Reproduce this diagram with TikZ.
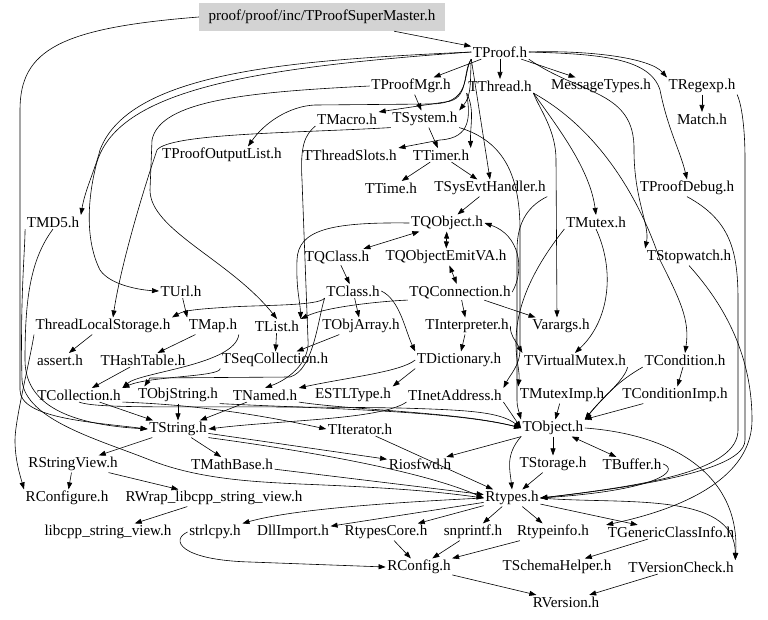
\documentclass[tikz,border=0pt]{standalone}
\usepackage{fontspec}
\setmainfont{Liberation Serif}
\usetikzlibrary{arrows.meta}
\begin{document}
\begin{tikzpicture}[x=1pt,y=-1pt,
  n/.style={inner sep=1.5pt, font=\fontsize{15.1}{17}\selectfont},
  e/.style={line width=0.6pt, -{Triangle[length=7pt,width=5pt]}},
  eb/.style={line width=0.6pt, {Triangle[length=7pt,width=5pt]}-{Triangle[length=7pt,width=5pt]}}]
\useasboundingbox (0,0) rectangle (768,619);
% nodes
\node[n, fill={rgb,255:red,211;green,211;blue,211}, minimum width=246pt, minimum height=28pt] (super) at (322,17) {proof/proof/inc/TProofSuperMaster.h};
\node[n] (TProof) at (500,52) {TProof.h};
\node[n] (TProofMgr) at (411,86) {TProofMgr.h};
\node[n] (TThread) at (500,86) {TThread.h};
\node[n] (MessageTypes) at (601,86) {MessageTypes.h};
\node[n] (TRegexp) at (702,86) {TRegexp.h};
\node[n] (Match) at (702,119) {Match.h};
\node[n] (TMacro) at (347,119) {TMacro.h};
\node[n] (TSystem) at (425,119) {TSystem.h};
\node[n] (TProofOutputList) at (222,155) {TProofOutputList.h};
\node[n] (TThreadSlots) at (350,155) {TThreadSlots.h};
\node[n] (TTimer) at (441,155) {TTimer.h};
\node[n] (TTime) at (391,188) {TTime.h};
\node[n] (TSysEvtHandler) at (490,188) {TSysEvtHandler.h};
\node[n] (TProofDebug) at (687,188) {TProofDebug.h};
\node[n] (TMD5) at (53,222) {TMD5.h};
\node[n] (TQObject) at (447,223) {TQObject.h};
\node[n] (TMutex) at (596,222) {TMutex.h};
\node[n] (TQClass) at (337,257) {TQClass.h};
\node[n] (TQObjectEmitVA) at (446,257) {TQObjectEmitVA.h};
\node[n] (TStopwatch) at (689,257) {TStopwatch.h};
\node[n] (TUrl) at (181,291) {TUrl.h};
\node[n] (TClass) at (353,291) {TClass.h};
\node[n] (TQConnection) at (460,292) {TQConnection.h};
\node[n] (ThreadLocalStorage) at (103,326) {ThreadLocalStorage.h};
\node[n] (TMap) at (213,326) {TMap.h};
\node[n] (TList) at (277,326) {TList.h};
\node[n] (TObjArray) at (361,326) {TObjArray.h};
\node[n] (TInterpreter) at (467,326) {TInterpreter.h};
\node[n] (Varargs) at (561,326) {Varargs.h};
\node[n] (assert) at (60,360) {assert.h};
\node[n] (THashTable) at (143,360) {THashTable.h};
\node[n] (TSeqCollection) at (275,360) {TSeqCollection.h};
\node[n] (TDictionary) at (459,360) {TDictionary.h};
\node[n] (TVirtualMutex) at (575,360) {TVirtualMutex.h};
\node[n] (TCondition) at (685,360) {TCondition.h};
\node[n] (TCollection) at (79,395) {TCollection.h};
\node[n] (TObjString) at (178,395) {TObjString.h};
\node[n] (TNamed) at (265,395) {TNamed.h};
\node[n] (ESTLType) at (353,395) {ESTLType.h};
\node[n] (TInetAddress) at (455,395) {TInetAddress.h};
\node[n] (TMutexImp) at (562,395) {TMutexImp.h};
\node[n] (TConditionImp) at (675,395) {TConditionImp.h};
\node[n] (TString) at (178,429) {TString.h};
\node[n] (TIterator) at (360,429) {TIterator.h};
\node[n] (TObject) at (553,428) {TObject.h};
\node[n] (RStringView) at (73,464) {RStringView.h};
\node[n] (TMathBase) at (232,464) {TMathBase.h};
\node[n] (Riosfwd) at (420,464) {Riosfwd.h};
\node[n] (TStorage) at (553,464) {TStorage.h};
\node[n] (TBuffer) at (632,464) {TBuffer.h};
\node[n] (RConfigure) at (67,498) {RConfigure.h};
\node[n] (RWrap) at (214,498) {RWrap\_libcpp\_string\_view.h};
\node[n] (Rtypes) at (512,498) {Rtypes.h};
\node[n] (libcpp) at (108,532) {libcpp\_string\_view.h};
\node[n] (strlcpy) at (215,532) {strlcpy.h};
\node[n] (DllImport) at (293,532) {DllImport.h};
\node[n] (RtypesCore) at (386,532) {RtypesCore.h};
\node[n] (snprintf) at (473,532) {snprintf.h};
\node[n] (Rtypeinfo) at (553,532) {Rtypeinfo.h};
\node[n] (TGenericClassInfo) at (671,532) {TGenericClassInfo.h};
\node[n] (RConfig) at (419,567) {RConfig.h};
\node[n] (TSchemaHelper) at (557,567) {TSchemaHelper.h};
\node[n] (TVersionCheck) at (681,567) {TVersionCheck.h};
\node[n] (RVersion) at (566,602) {RVersion.h};
% edges: top
\draw[e] (super) -- (TProof);
\draw[e] (super.west) .. controls (60,28) and (20,50) .. (20,110) -- (20,390) .. controls (20,418) and (90,422) .. (TString.west);
\draw[e] (TProof) -- (TProofMgr);
\draw[e] (TProof) -- (TThread);
\draw[e] (TProof) -- (MessageTypes);
\draw[e] (TProof.east) .. controls (590,50) and (650,58) .. (TRegexp.north west);
\draw[e] (TProof.east) .. controls (600,54) and (650,58) .. (660,90) .. controls (668,130) and (680,150) .. (TProofDebug.north);
\draw[e] (TRegexp) -- (Match);
\draw[e] (TProof.south west) .. controls (462,72) and (470,100) .. (445,102) -- (TMacro.north east);
\draw[e] (TProof.south west) .. controls (462,75) and (472,104) .. (430,104) -- (315,105) .. controls (290,106) and (265,122) .. ([xshift=26pt]TProofOutputList.north);
\draw[e] (TProof.west) .. controls (300,60) and (130,70) .. (100,150) .. controls (95,170) and (85,190) .. (TMD5.north east);
\draw[e] (TProof.west) .. controls (250,68) and (110,90) .. (95,170) .. controls (88,200) and (85,240) .. (100,270) .. controls (110,285) and (140,290) .. (TUrl.west);
\draw[e] (TProof.south west) -- (TSysEvtHandler.north);
\draw[e] (TProofMgr) -- (TSystem);
\draw[e] (TProofMgr.west) .. controls (250,92) and (160,100) .. (152,140) -- (150,190) .. controls (150,230) and (230,260) .. (TList.north);
\draw[e] (TProof.south west) .. controls (470,80) and (472,95) .. (TSystem.north east);
\draw[e] (TThread.south west) .. controls (475,110) and (470,125) .. (TTimer.north east);
\draw[e] (TThread.south west) .. controls (470,115) and (472,138) .. (440,140) -- (TThreadSlots.north east);
\draw[e] (TSystem) -- (TTimer);
\draw[e] (TSystem.south west) .. controls (300,133) and (170,133) .. (157,150) .. controls (140,200) and (120,270) .. ([xshift=10pt]ThreadLocalStorage.north);
\draw[e] (TThread.south east) .. controls (560,130) and (590,170) .. (TMutex.north);
\draw[e] (TThread.south east) .. controls (540,110) and (556,130) .. (556,160) -- ([xshift=-4pt]Varargs.north);
\draw[e] (TThread.south east) .. controls (600,130) and (640,200) .. (660,260) .. controls (680,300) and (690,320) .. (TCondition.north);
\draw[e] (TProof.south east) .. controls (580,95) and (635,90) .. (634,150) .. controls (634,200) and (650,225) .. (TStopwatch.north west);
\draw[e] (TTimer) -- (TTime);
\draw[e] (TTimer) -- (TSysEvtHandler);
\draw[e] (TSysEvtHandler) -- (TQObject);
\draw[e] (TMacro.south west) .. controls (305,135) and (300,145) .. (302,180) -- (308,340) .. controls (310,360) and (292,378) .. (TNamed.north);
% TQObject cluster
\draw[eb] (TQObject) -- (TQClass);
\draw[eb] (TQObject) -- (TQObjectEmitVA);
\draw[eb] (TQObjectEmitVA) -- (TQConnection);
\draw[e] (TQConnection.east) .. controls (525,270) and (520,235) .. (TQObject.east);
\draw[e] (TQObject.west) .. controls (330,222) and (298,230) .. (297,260) .. controls (296,290) and (300,300) .. (TList.north east);
\draw[e] (TQClass) -- (TClass);
\draw[e] (TQConnection) -- (TInterpreter);
\draw[e] (TQConnection) -- (Varargs);
\draw[e] (TQConnection.south west) .. controls (400,300) and (330,305) .. (TList.north east);
\draw[e] (TClass) -- (TObjArray);
\draw[e] (TClass.south west) .. controls (320,306) and (260,305) .. (230,307) .. controls (200,309) and (185,310) .. (ThreadLocalStorage.north east);
\draw[e] (TClass.east) .. controls (400,300) and (405,330) .. (TDictionary.north west);
\draw[e] (TClass.south west) .. controls (318,318) and (314,370) .. (290,377) -- (150,378) -- ([xshift=8pt]TObjString.north west);
\draw[e] (TDictionary.west) .. controls (400,372) and (350,377) .. (TNamed.north east);
\draw[e] (TDictionary.south west) -- (ESTLType.north east);
\draw[e] (TInterpreter) -- (TDictionary);
\draw[e] (TInterpreter.east) .. controls (510,335) and (515,340) .. (TVirtualMutex.north west);
\draw[e] (TMutex.south) .. controls (615,270) and (610,320) .. (TVirtualMutex.north);
\draw[e] (TSystem.south east) .. controls (500,140) and (520,170) .. (520,230) -- (520,350) .. controls (520,365) and (510,375) .. (TInetAddress.north east);
\draw[e] (TMutex.south west) .. controls (540,260) and (515,300) .. (516,345) .. controls (516,360) and (520,372) .. (TMutexImp.north west);
\draw[e] (TSysEvtHandler.south east) .. controls (530,205) and (517,220) .. (517,250) -- (517,395) .. controls (517,405) .. (TObject.north west);
\draw[e] (TMutexImp) -- (TObject);
\draw[e] (TVirtualMutex.south east) .. controls (625,380) and (600,400) .. (TObject.north east);
\draw[e] (TConditionImp) -- (TObject);
\draw[e] (TCondition) -- (TConditionImp);
\draw[e] (TCondition.south west) .. controls (620,380) and (605,395) .. (TObject.north east);
% left middle
\draw[e] (TUrl) -- (TMap.north west);
\draw[e] (TMap) -- (THashTable);
\draw[e] (TMap.south east) .. controls (235,365) and (140,372) .. (TCollection.north east);
\draw[e] (THashTable) -- (TCollection);
\draw[e] (TList) -- (TSeqCollection);
\draw[e] (TObjArray) -- (TSeqCollection);
\draw[e] (TSeqCollection.south west) .. controls (220,377) and (150,376) .. (TCollection.north east);
\draw[e] (ThreadLocalStorage) -- (assert);
\draw[e] (ThreadLocalStorage.south west) .. controls (30,360) and (15,420) .. (15,440) .. controls (15,460) and (20,475) .. (RConfigure.north west);
\draw[e] (TCollection) -- (TString);
\draw[e] (TObjString) -- (TString);
\draw[e] (TNamed) -- (TString);
\draw[e] (TInetAddress.south west) .. controls (380,420) and (280,420) .. (TString.east);
\draw[e] (TMD5.south) .. controls (30,260) and (25,300) .. (25,360) .. controls (25,410) and (80,425) .. (TString.west);
\draw[e] (TCollection.south east) .. controls (200,405) and (260,415) .. (TIterator.west);
\draw[e] (TCollection.south) .. controls (100,410) and (200,405) .. (400,408) .. controls (470,410) and (500,412) .. (TObject.west);
\draw[e] (TObjString.south east) .. controls (300,408) and (450,410) .. (TObject.west);
\draw[e] (TNamed.south east) .. controls (350,410) and (460,412) .. (TObject.west);
\draw[e] (TInetAddress.south east) -- (TObject.west);
% bottom
\draw[e] (TString) -- (RStringView);
\draw[e] (TString) -- (TMathBase);
\draw[e] (TString) -- (Riosfwd);
\draw[e] (TString.south east) .. controls (300,450) and (420,470) .. (Rtypes.west);
\draw[e] (TMathBase) -- (Rtypes);
\draw[e] (TIterator) -- (Rtypes);
\draw[e] (TObject) -- (Riosfwd);
\draw[e] (TObject) -- (TStorage);
\draw[eb] (TObject) -- (TBuffer);
\draw[e] (TObject.south west) .. controls (505,455) and (510,470) .. (Rtypes.north);
\draw[e] (TStorage) -- (Rtypes);
\draw[e] (TBuffer.east) .. controls (680,470) and (660,490) .. (Rtypes.east);
\draw[e] (TObject.east) .. controls (680,435) and (740,480) .. (TVersionCheck.north east);
\draw[e] (TRegexp.south east) .. controls (740,100) and (745,120) .. (745,160) -- (745,440) .. controls (745,460) and (700,480) .. (Rtypes.east);
\draw[e] (TProofDebug.south) .. controls (730,220) and (738,250) .. (738,300) -- (738,430) .. controls (738,470) and (650,485) .. (Rtypes.east);
\draw[e] (TStopwatch.south) .. controls (720,300) and (752,350) .. (752,420) .. controls (752,470) and (700,505) .. (TGenericClassInfo.north west);
\draw[e] (TMD5.south west) .. controls (25,250) and (20,300) .. (22,380) .. controls (25,420) and (100,440) .. (150,460) .. controls (200,480) and (260,482) .. (300,484) .. controls (400,488) and (440,492) .. (Rtypes.west);
\draw[e] (Rtypes.west) .. controls (380,503) and (290,510) .. (strlcpy.north east);
\draw[e] (Rtypes) -- (DllImport);
\draw[e] (Rtypes) -- (RtypesCore);
\draw[e] (Rtypes) -- (snprintf);
\draw[e] (Rtypes) -- (Rtypeinfo);
\draw[e] (Rtypes) -- (TGenericClassInfo);
\draw[e] (Rtypes.east) .. controls (620,505) and (735,490) .. (TVersionCheck.north east);
\draw[e] (strlcpy.west) .. controls (170,540) and (180,560) .. (250,562) -- (RConfig.west);
\draw[e] (RtypesCore) -- (RConfig);
\draw[e] (snprintf) -- (RConfig);
\draw[e] (Rtypeinfo) -- (RConfig);
\draw[e] (TGenericClassInfo) -- (TSchemaHelper);
\draw[e] (RConfig) -- (RVersion);
\draw[e] (TVersionCheck) -- (RVersion);
\draw[e] (RStringView) -- (RConfigure);
\draw[e] (RStringView) -- (RWrap);
\draw[e] (RWrap) -- (libcpp);
\end{tikzpicture}
\end{document}
